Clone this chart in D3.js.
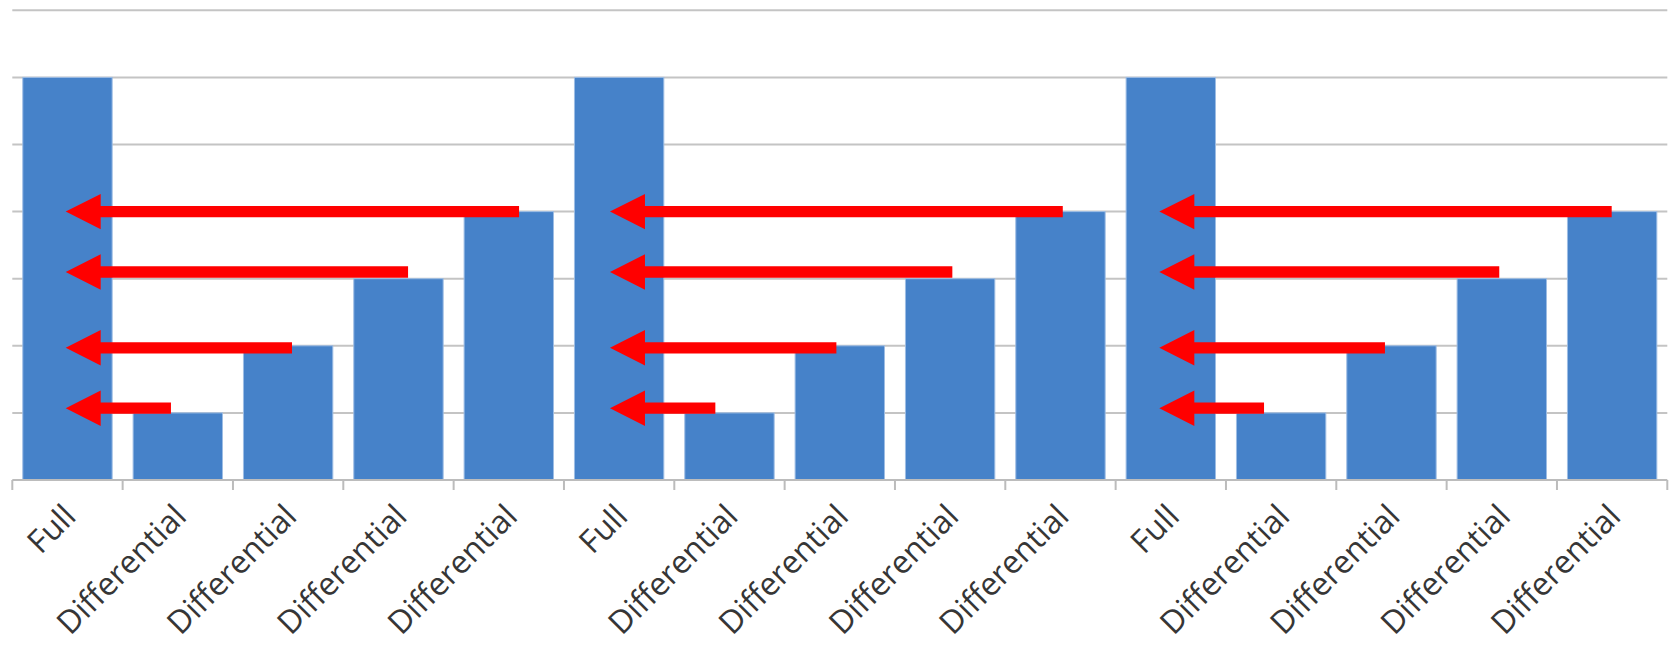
<!DOCTYPE html>
<html>
<head>
<meta charset="utf-8">
<script src="https://cdn.jsdelivr.net/npm/d3@7"></script>
<style>
  html, body { margin: 0; padding: 0; background: #ffffff; }
  svg { display: block; }
</style>
</head>
<body>
<script>
// Backup chain: one full backup followed by four differentials, repeated three times
const categories = [
  "Full", "Differential", "Differential", "Differential", "Differential",
  "Full", "Differential", "Differential", "Differential", "Differential",
  "Full", "Differential", "Differential", "Differential", "Differential"
];
const values = [6, 1, 2, 3, 4, 6, 1, 2, 3, 4, 6, 1, 2, 3, 4];
const yTicks = [0, 1, 2, 3, 4, 5, 6, 7];

// Red arrows: each differential points back to its full backup.
// Levels are in value units; tips and tails are in category units along the axis.
const arrowLevels = [4.0, 3.1, 1.97, 1.07];
const arrowTips = [0.484, 5.417, 10.396];
const arrowTails = [
  [4.593, 3.587, 2.535, 1.438],
  [9.521, 8.520, 7.469, 6.372],
  [14.496, 13.477, 12.441, 11.345]
];

const W = 1671, H = 646;
const plot = { left: 12.3, right: 1667.3, top: 10.3, bottom: 480 };

const svg = d3.select("body").append("svg")
  .attr("width", W).attr("height", H)
  .attr("viewBox", `0 0 ${W} ${H}`);

const x = d3.scaleBand()
  .domain(d3.range(categories.length))
  .range([plot.left, plot.right])
  .paddingInner(0.19)
  .paddingOuter(0.095);

const xPos = d3.scaleLinear().domain([0, categories.length]).range([plot.left, plot.right]);

const y = d3.scaleLinear().domain([0, 7]).range([plot.bottom, plot.top]);

// horizontal gridlines
svg.append("g")
  .selectAll("line")
  .data(yTicks.filter(d => d > 0))
  .join("line")
  .attr("x1", plot.left).attr("x2", plot.right)
  .attr("y1", d => y(d)).attr("y2", d => y(d))
  .attr("stroke", "#c4c4c4")
  .attr("stroke-width", 2);

// bars
svg.append("g")
  .selectAll("rect")
  .data(values)
  .join("rect")
  .attr("x", (d, i) => x(i))
  .attr("width", x.bandwidth())
  .attr("y", d => y(d))
  .attr("height", d => y(0) - y(d))
  .attr("fill", "#4682c9")
  .attr("stroke", "#9dbde4")
  .attr("stroke-width", 1);

// category axis with ticks at category boundaries
const axisG = svg.append("g");
axisG.append("line")
  .attr("x1", plot.left).attr("x2", plot.right)
  .attr("y1", plot.bottom).attr("y2", plot.bottom)
  .attr("stroke", "#bcbcbc").attr("stroke-width", 2);
axisG.selectAll("line.tick")
  .data(d3.range(categories.length + 1))
  .join("line")
  .attr("class", "tick")
  .attr("x1", d => xPos(d)).attr("x2", d => xPos(d))
  .attr("y1", plot.bottom).attr("y2", plot.bottom + 10)
  .attr("stroke", "#bcbcbc").attr("stroke-width", 2);

axisG.selectAll("text")
  .data(categories)
  .join("text")
  .attr("transform", (d, i) => `translate(${x(i) + x.bandwidth() / 2 - 6},${plot.bottom + 22}) rotate(-45)`)
  .attr("text-anchor", "end")
  .attr("dy", "0.72em")
  .attr("font-family", "'Open Sans', 'Noto Sans', sans-serif")
  .attr("font-size", 32)
  .attr("fill", "#363636")
  .text(d => d);

// arrows
const shaft = 11.3, headLen = 35, headHalf = 17.7;
const arrows = [];
arrowTips.forEach((tip, g) => {
  arrowTails[g].forEach((tail, k) => {
    arrows.push({ tip, tail, level: arrowLevels[k] });
  });
});

function arrowPath(a) {
  const xt = xPos(a.tip), xe = xPos(a.tail), yc = y(a.level);
  const p = d3.path();
  p.moveTo(xt, yc);
  p.lineTo(xt + headLen, yc - headHalf);
  p.lineTo(xt + headLen, yc - shaft / 2);
  p.lineTo(xe, yc - shaft / 2);
  p.lineTo(xe, yc + shaft / 2);
  p.lineTo(xt + headLen, yc + shaft / 2);
  p.lineTo(xt + headLen, yc + headHalf);
  p.closePath();
  return p.toString();
}

svg.append("g")
  .selectAll("path")
  .data(arrows)
  .join("path")
  .attr("d", arrowPath)
  .attr("fill", "#ff0000");
</script>
</body>
</html>
